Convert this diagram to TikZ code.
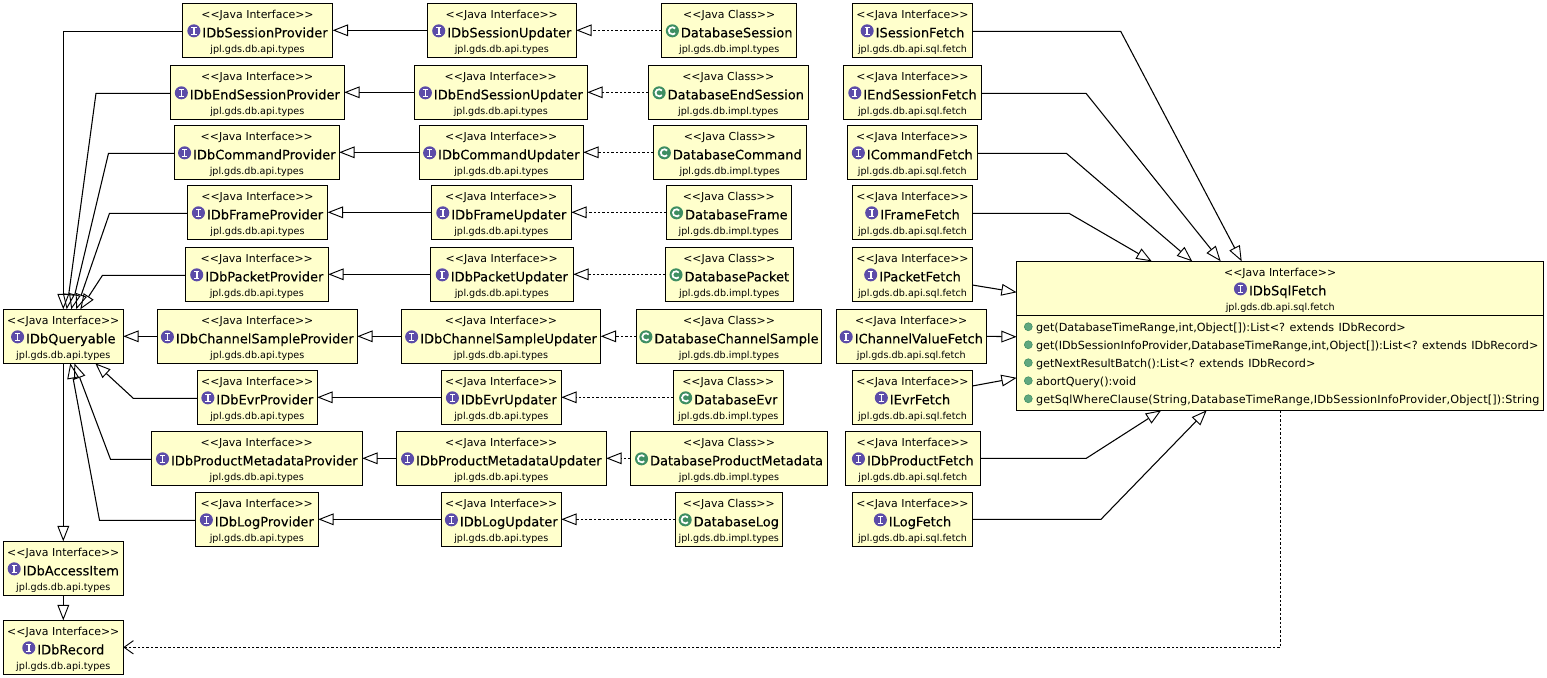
\documentclass[tikz,border=0pt]{standalone}
\usepackage{fontspec}
\setmainfont{DejaVu Sans}
\newfontface\namebase[FakeBold=0.12]{DejaVu Sans}
\newfontface\widebase[LetterSpace=1.45]{DejaVu Sans}
\usetikzlibrary{arrows.meta,calc}
\definecolor{umlyellow}{RGB}{255,255,204}
\definecolor{umlpurple}{RGB}{92,76,168}
\definecolor{umlgreen}{RGB}{62,142,98}
\definecolor{umlbullet}{RGB}{96,168,128}
\newcommand\stereofont{\fontsize{8.2pt}{10pt}\selectfont}
\newcommand\namefont{\namebase\fontsize{9.75pt}{12pt}\selectfont}
\newcommand\pkgfont{\fontsize{7.2pt}{9pt}\selectfont}
\newcommand\methfont{\fontsize{8.4pt}{10pt}\selectfont}
\newcommand\iconI{\begin{tikzpicture}[baseline={(0,-4.9pt)}]
  \fill[umlpurple] (0,0) circle (4.9pt);
  \draw[white,line width=1.2pt] (0,-2.6pt) -- (0,2.6pt);
  \draw[white,line width=0.8pt] (-2pt,-2.6pt) -- (2pt,-2.6pt) (-2pt,2.6pt) -- (2pt,2.6pt);
\end{tikzpicture}\kern1.5pt}
\newcommand\iconC{\begin{tikzpicture}[baseline={(0,-4.9pt)}]
  \fill[umlgreen] (0,0) circle (4.9pt);
  \draw[white,line width=1.3pt] (40:2.7pt) arc (40:320:2.7pt);
\end{tikzpicture}\kern1.5pt}
\newcommand\bulletM{\begin{tikzpicture}[baseline={(0,-3.3pt)}]
  \fill[umlbullet,draw=umlgreen,line width=.4pt] (0,0) circle (3pt);
\end{tikzpicture}}
\newcommand\threelines[3]{\vbox{\offinterlineskip\halign{\hfil##\hfil\cr
  \vrule height 10.4pt depth 3.6pt width 0pt{\stereofont #1}\cr
  \vrule height 10.4pt depth 3.6pt width 0pt{\namefont #2}\cr
  \vrule height 8pt depth 2.2pt width 0pt{\pkgfont #3}\cr}}}
\newcommand\methline[1]{\vrule height 10pt depth 3.5pt width 0pt\bulletM\kern2.6pt #1\cr}
\newcommand\methlines[1]{\vbox{\offinterlineskip\methfont\frenchspacing\halign{##\hfil\cr #1}}}
\tikzset{
  umlbox/.style={draw=black,fill=umlyellow,line width=.8pt,inner sep=0pt,outer sep=0pt,text=black},
  gen/.style={line width=.8pt,-{Triangle[open,length=11.5pt,width=8.8pt,line width=.7pt]}},
  real/.style={line width=.65pt,dash pattern=on 1.8pt off 1.5pt,-{Triangle[open,length=11.5pt,width=8.8pt,line width=.7pt]}}
}
% id, x0, x1, y0, y1, kind, icon, name, package
\newcommand\umlnode[9]{%
  \pgfmathsetmacro\umlcx{(#2+#3)/2}%
  \pgfmathsetmacro\umlcy{(#4+#5)/2}%
  \pgfmathsetmacro\umlw{(#3-#2)*0.75}%
  \pgfmathsetmacro\umlh{(#5-#4)*0.75}%
  \node[umlbox,minimum width=\umlw pt,minimum height=\umlh pt] (#1) at (\umlcx,\umlcy)
    {\threelines{<{}<Java #6>{}>}{#7#8}{#9}};}
\newcommand\ifacenode[7]{\umlnode{#1}{#2}{#3}{#4}{#5}{Interface}{\iconI}{#6}{#7}}
\newcommand\classnode[7]{\umlnode{#1}{#2}{#3}{#4}{#5}{Class}{\iconC}{#6}{#7}}
\def\apit{jpl.gds.db.api.types}
\def\imp{jpl.gds.db.impl.types}
\def\fet{jpl.gds.db.api.sql.fetch}
\begin{document}
\begin{tikzpicture}[x=.75pt,y=-.75pt]
\path[use as bounding box,fill=white] (0,0) rectangle (1547,678);
% providers
\ifacenode{p1}{182.3}{332.7}{3.3}{57.3}{IDbSessionProvider}{\apit}
\ifacenode{p2}{170.3}{344.3}{65.3}{119.3}{IDbEndSessionProvider}{\apit}
\ifacenode{p3}{174.3}{339.3}{125.3}{179.3}{IDbCommandProvider}{\apit}
\ifacenode{p4}{187.3}{327.7}{185.3}{239.3}{IDbFrameProvider}{\apit}
\ifacenode{p5}{185.3}{328.3}{247.3}{301.3}{IDbPacketProvider}{\apit}
\ifacenode{p6}{157.3}{357.3}{309.3}{363.3}{IDbChannelSampleProvider}{\apit}
\ifacenode{p7}{197.3}{317.3}{370.3}{424.3}{IDbEvrProvider}{\apit}
\ifacenode{p8}{151.3}{362.3}{431.3}{485.3}{IDbProductMetadataProvider}{\apit}
\ifacenode{p9}{195.3}{318.3}{492.3}{546.3}{IDbLogProvider}{\apit}
% left column
\ifacenode{q}{3.3}{123.3}{309.3}{363.3}{IDbQueryable}{\apit}
\ifacenode{acc}{3.3}{123.3}{541.3}{595.3}{IDbAccessItem}{\apit}
\ifacenode{rec}{3.3}{123.3}{620.3}{674.3}{IDbRecord}{\apit}
% updaters
\ifacenode{u1}{427.3}{576.3}{3.3}{57.3}{IDbSessionUpdater}{\apit}
\ifacenode{u2}{414.3}{587.3}{65.3}{119.3}{IDbEndSessionUpdater}{\apit}
\ifacenode{u3}{419.3}{583.3}{125.3}{179.3}{IDbCommandUpdater}{\apit}
\ifacenode{u4}{431.3}{571.3}{185.3}{239.3}{IDbFrameUpdater}{\apit}
\ifacenode{u5}{430.3}{573.3}{247.3}{301.3}{IDbPacketUpdater}{\apit}
\ifacenode{u6}{401.3}{600.7}{309.3}{363.3}{IDbChannelSampleUpdater}{\apit}
\ifacenode{u7}{441.3}{561.3}{370.3}{424.3}{IDbEvrUpdater}{\apit}
\ifacenode{u8}{396.3}{606.3}{431.3}{485.3}{IDbProductMetadataUpdater}{\apit}
\ifacenode{u9}{441.3}{561.3}{492.3}{546.3}{IDbLogUpdater}{\apit}
% classes
\classnode{c1}{661.7}{796.7}{3.3}{57.3}{DatabaseSession}{\imp}
\classnode{c2}{648.3}{808.3}{65.3}{119.3}{DatabaseEndSession}{\imp}
\classnode{c3}{653.3}{806.3}{125.3}{179.3}{DatabaseCommand}{\imp}
\classnode{c4}{666.3}{791.3}{185.3}{239.3}{DatabaseFrame}{\imp}
\classnode{c5}{665.3}{793.3}{247.3}{301.3}{DatabasePacket}{\imp}
\classnode{c6}{636.3}{821.7}{309.3}{363.3}{DatabaseChannelSample}{\imp}
\classnode{c7}{673.3}{783.3}{370.3}{424.3}{DatabaseEvr}{\imp}
\classnode{c8}{630.3}{827.7}{431.3}{485.3}{DatabaseProductMetadata}{\imp}
\classnode{c9}{675.3}{782.3}{492.3}{546.3}{DatabaseLog}{\imp}
% fetch
\ifacenode{f1}{852.3}{972.7}{3.3}{57.3}{ISessionFetch}{\fet}
\ifacenode{f2}{843.3}{981.7}{65.3}{119.3}{IEndSessionFetch}{\fet}
\ifacenode{f3}{847.3}{977.3}{125.3}{179.3}{ICommandFetch}{\fet}
\ifacenode{f4}{852.7}{972.3}{185.3}{239.3}{IFrameFetch}{\fet}
\ifacenode{f5}{852.7}{972.3}{247.3}{301.3}{IPacketFetch}{\fet}
\ifacenode{f6}{836.3}{986.3}{309.3}{363.3}{IChannelValueFetch}{\fet}
\ifacenode{f7}{852.7}{972.3}{370.3}{424.3}{IEvrFetch}{\fet}
\ifacenode{f8}{845.3}{980.3}{431.3}{485.3}{IDbProductFetch}{\fet}
\ifacenode{f9}{852.7}{972.3}{492.3}{546.3}{ILogFetch}{\fet}
% IDbSqlFetch
\ifacenode{s}{1016.7}{1543.7}{261.3}{315.3}{IDbSqlFetch}{\fet}
\pgfmathsetmacro\smh{95*0.75}
\pgfmathsetmacro\smw{527*0.75}
\node[umlbox,minimum width=\smw pt,minimum height=\smh pt,anchor=north,text width=\smw pt-11pt,align=left] (sm) at (s.south) {%
  \methlines{%
  \methline{get(DatabaseTimeRange,int,Object[]):List<? extends IDbRecord>}%
  \methline{get(IDbSessionInfoProvider,DatabaseTimeRange,int,Object[]):List<? extends IDbRecord>}%
  \methline{getNextResultBatch():List<? extends IDbRecord>}%
  \methline{abortQuery():void}%
  \methline{{\widebase\methfont getSqlWhereClause(String,DatabaseTimeRange,IDbSessionInfoProvider,Object[]):String}}%
  }};
% updater -> provider
\foreach \i in {1,...,9} {\draw[gen] (u\i.west) -- (p\i.east);}
% class -> updater
\foreach \i in {1,...,9} {\draw[real] (c\i.west) -- (u\i.east);}
% provider -> queryable
\draw[gen] (p6.west) -- (q.east);
\draw[gen] ($(p1.west)+(0,1)$) -| (q.north);
\draw[gen] ($(p2.west)+(0,1)$) -- ++(-74.3,0) -- ($(q.north)+(3.4,0)$);
\draw[gen] ($(p3.west)+(0,1)$) -- ++(-65.8,0) -- ($(q.north)+(8,0)$);
\draw[gen] ($(p4.west)+(0,1)$) -- ++(-77.8,0) -- ($(q.north)+(13,0)$);
\draw[gen] ($(p5.west)+(0,1)$) -- ++(-82.8,0) -- ($(q.north)+(17,0)$);
\draw[gen] ($(p7.west)+(0,1)$) -- ++(-64,0) -- ($(q.south)+(32,0)$);
\draw[gen] ($(p8.west)+(0,1)$) -- ++(-40.8,0) -- ($(q.south)+(11,0)$);
\draw[gen] ($(p9.west)+(0,1)$) -- ++(-95.8,0) -- ($(q.south)+(7,0)$);
\draw[gen] (q.south) -- (acc.north);
\draw[gen] (acc.south) -- (rec.north);
% fetch -> sql fetch
\draw[gen] ($(f1.east)+(0,1)$) -- ++(148,0) -- ($(s.north)+(-38.5,0)$);
\draw[gen] ($(f2.east)+(0,1)$) -- ++(104.3,0) -- ($(s.north)+(-59.5,0)$);
\draw[gen] ($(f3.east)+(0,1)$) -- ++(89,0) -- ($(s.north)+(-88,0)$);
\draw[gen] ($(f4.east)+(0,1)$) -- ++(96.7,0) -- ($(s.north)+(-128.5,0)$);
\draw[gen] ($(f5.east)+(0,10.7)$) -- ($(s.west)+(0,4)$);
\draw[gen] (f6.east) -- ($(sm.west)+(0,-26)$);
\draw[gen] ($(f7.east)+(0,-11.3)$) -- ($(sm.west)+(0,15)$);
\draw[gen] (f8.east) -- ++(106,0) -- ($(sm.south)+(-119,0)$);
\draw[gen] (f9.east) -- ++(128.7,0) -- ($(sm.south)+(-73.5,0)$);
% sql fetch -> record
\draw[line width=.65pt,dash pattern=on 1.8pt off 1.5pt,-{Straight Barb[length=7pt,width=10pt,line width=.7pt]}] (sm.south) |- (rec.east);
\end{tikzpicture}
\end{document}
